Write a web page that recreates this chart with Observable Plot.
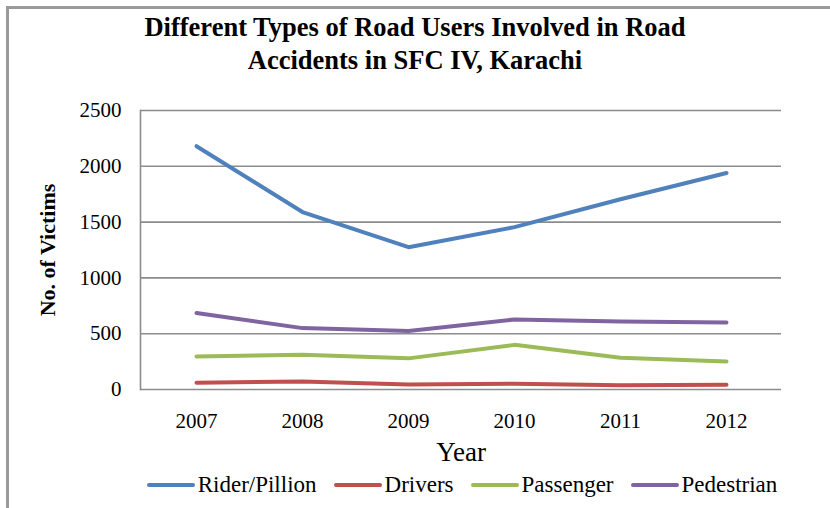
<!DOCTYPE html>
<html>
<head>
<meta charset="utf-8">
<script src="https://cdn.jsdelivr.net/npm/d3@7"></script>
<script src="https://cdn.jsdelivr.net/npm/@observablehq/plot@0.6"></script>
<style>
  html, body { margin: 0; padding: 0; background: #fff; }
  #wrap { position: relative; width: 830px; height: 508px; overflow: hidden; font-family: "Liberation Serif", "Times New Roman", serif; }
  #border { position: absolute; left: 6px; top: 6px; right: -10px; bottom: -10px; border-left: 3px solid #9a9a9a; border-top: 3px solid #9a9a9a; }
  #title { position: absolute; left: 0; top: 11px; width: 830px; text-align: center; font-weight: bold; font-size: 26.5px; line-height: 33px; color: #000; }
  #chart { position: absolute; left: 0; top: 90px; }
  #legend { position: absolute; left: 0; top: 472px; width: 830px; display: flex; justify-content: center; align-items: center; font-size: 23px; color: #000; padding-left: 111px; box-sizing: border-box; }
  .item { display: flex; align-items: center; margin-right: 17px; }
  .sw { width: 48px; height: 4px; border-radius: 2px; margin-right: 3px; }
</style>
</head>
<body>
<div id="wrap">
  <div id="border"></div>
  <div id="title">Different Types of Road Users Involved in Road<br>Accidents in SFC IV, Karachi</div>
  <div id="chart"></div>
  <div id="legend"></div>
</div>
<script>
const years = ["2007", "2008", "2009", "2010", "2011", "2012"];
const seriesNames = ["Rider/Pillion", "Drivers", "Passenger", "Pedestrian"];
const riderPillion = [2180, 1590, 1275, 1455, 1705, 1940];
const drivers = [60, 72, 45, 51, 39, 42];
const passenger = [295, 312, 279, 400, 285, 252];
const pedestrian = [685, 550, 525, 628, 610, 600];
const colors = ["#4F81BD", "#C0504D", "#9BBB59", "#8064A2"];
const yTicks = [0, 500, 1000, 1500, 2000, 2500];

const allSeries = [riderPillion, drivers, passenger, pedestrian];
const data = [];
seriesNames.forEach((s, i) => {
  years.forEach((y, j) => data.push({series: s, year: y, value: allSeries[i][j]}));
});

const chart = Plot.plot({
  width: 830,
  height: 380,
  marginTop: 20,
  marginBottom: 81,
  marginLeft: 140,
  marginRight: 49,
  style: {fontFamily: "'Liberation Serif', 'Times New Roman', serif", background: "transparent", color: "#000"},
  x: {type: "point", domain: years, padding: 0.5, label: null},
  y: {domain: [0, 2500], label: null},
  color: {domain: seriesNames, range: colors},
  marks: [
    Plot.ruleY(yTicks, {stroke: "#8c8c8c", strokeWidth: 1.6}),
    Plot.frame({anchor: "left", stroke: "#8c8c8c", strokeWidth: 1.6}),
    Plot.axisY(yTicks, {tickSize: 0, tickPadding: 19, fontSize: 21, tickFormat: "d", label: null}),
    Plot.axisX({tickSize: 0, tickPadding: 24, fontSize: 21, label: null}),
    Plot.line(data, {x: "year", y: "value", stroke: "series", z: "series", strokeWidth: 4, strokeLinecap: "round", strokeLinejoin: "round"}),
    Plot.text(["Year"], {frameAnchor: "bottom", dy: 63, fontSize: 27, lineAnchor: "middle"}),
    Plot.text(["No. of Victims"], {frameAnchor: "left", dx: -93, rotate: -90, textAnchor: "middle", fontSize: 22, fontWeight: "bold"})
  ]
});
document.getElementById("chart").appendChild(chart);

const legend = document.getElementById("legend");
seriesNames.forEach((s, i) => {
  const it = document.createElement("div");
  it.className = "item";
  const sw = document.createElement("span");
  sw.className = "sw";
  sw.style.background = colors[i];
  const tx = document.createElement("span");
  tx.textContent = s;
  it.appendChild(sw);
  it.appendChild(tx);
  legend.appendChild(it);
});
</script>
</body>
</html>
